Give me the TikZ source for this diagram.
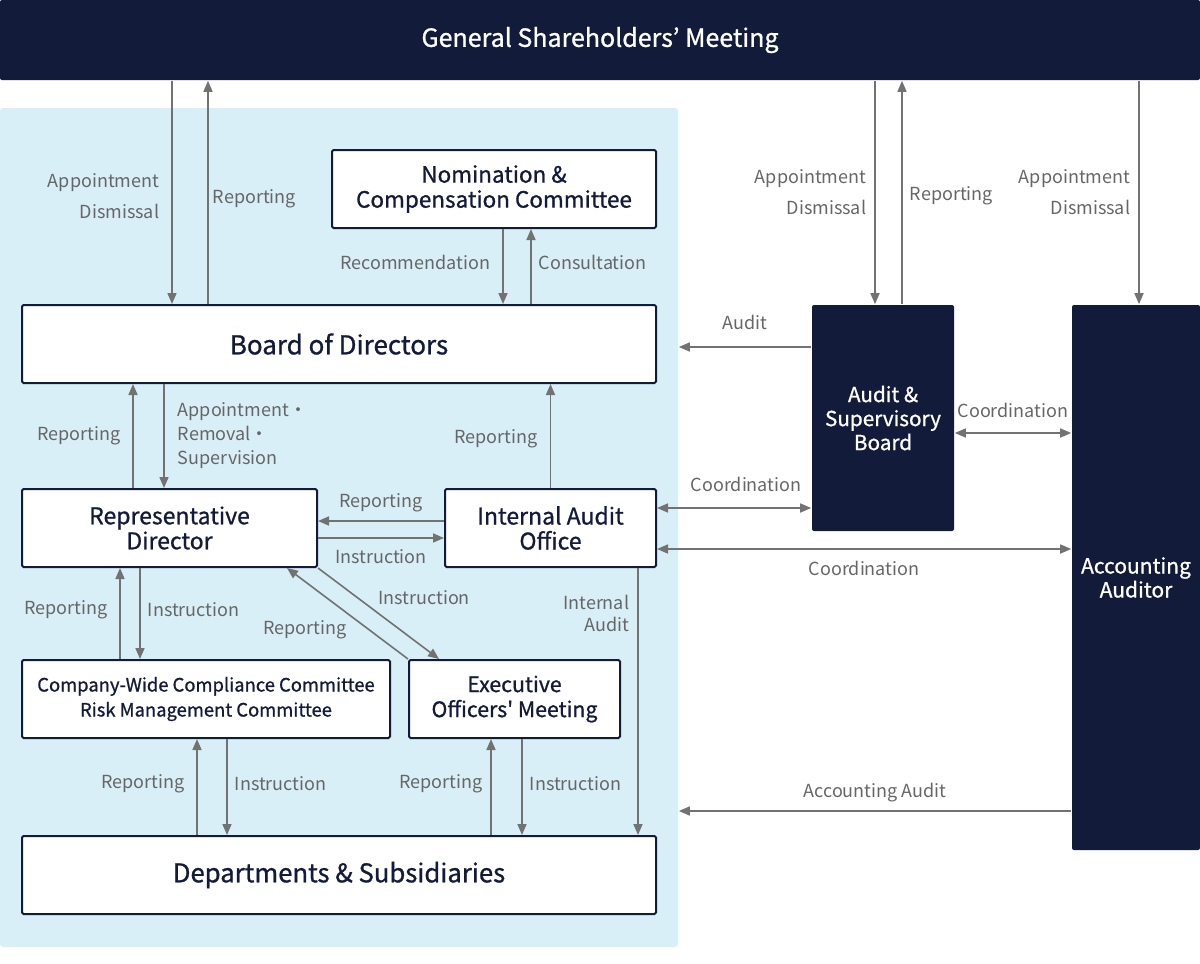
\documentclass[tikz,border=0pt]{standalone}
\usepackage{fontspec}
\setmainfont{Noto Sans CJK JP}
\newfontfamily\medfont{Noto Sans CJK JP}[FakeBold=0.9]
\usetikzlibrary{arrows.meta}
\usetikzlibrary{positioning}

\definecolor{navy}{HTML}{131B3A}
\definecolor{panelblue}{HTML}{D8EFF7}
\definecolor{arrowgray}{HTML}{727272}
\definecolor{labelgray}{HTML}{666666}

\begin{document}
\begin{tikzpicture}[x=1pt, y=-1pt, ->, >={Triangle[length=11pt,width=9pt]}, line width=1.6pt, color=arrowgray]
    \tikzstyle{box}=[draw=navy, line width=2pt, fill=white, text=navy, rounded corners=1.5pt, minimum height=78pt, align=center, inner sep=0pt]
    \tikzstyle{darkbox}=[fill=navy, text=white, rounded corners=2pt, align=center, inner sep=0pt]
    \tikzstyle{lbl}=[text=labelgray, font=\fontsize{18}{22}\selectfont, inner sep=4pt]
    \useasboundingbox (0,0) rectangle (1200,964);

    % company-side panel
    \node[fill=panelblue, rounded corners=3pt, minimum width=678pt, minimum height=839pt, inner sep=0pt] (panel) at (339,527.5) {};

    \node[darkbox, minimum width=1200pt, minimum height=80pt, font=\medfont\fontsize{25}{25}\selectfont] (gsm) at (600,40) {General Shareholders’ Meeting};
    \node[box, minimum width=324pt, font=\medfont\fontsize{22.5}{25}\selectfont] (nom) at (494,189) {Nomination \&\\Compensation Committee};
    \node[box, minimum width=634pt, font=\medfont\fontsize{26}{26}\selectfont] (board) at (339,344) {Board of Directors};
    \node[box, minimum width=295pt, font=\medfont\fontsize{23}{25}\selectfont] (rep) at (169.5,528) {Representative\\Director};
    \node[box, minimum width=211pt, font=\medfont\fontsize{23}{25}\selectfont] (iao) at (550.5,528) {Internal Audit\\Office};
    \node[box, minimum width=368pt, font=\medfont\fontsize{18.4}{25}\selectfont] (comp) at (206,699) {Company-Wide Compliance Committee\\Risk Management Committee};
    \node[box, minimum width=211pt, font=\medfont\fontsize{21.3}{25}\selectfont] (exec) at (514.5,699) {Executive\\Officers' Meeting};
    \node[box, minimum width=634pt, font=\medfont\fontsize{25.7}{26}\selectfont] (dept) at (339,875) {Departments \& Subsidiaries};
    \node[darkbox, minimum width=142pt, minimum height=226pt, font=\medfont\fontsize{20.7}{24}\selectfont] (asb) at (883,418) {Audit \&\\Supervisory\\Board};
    \node[darkbox, minimum width=128pt, minimum height=545pt, font=\medfont\fontsize{21}{24}\selectfont] (aa) at (1136,577.5) {Accounting\\Auditor};

    \path
    % shareholders and board
    ([xshift=151pt]board.north west |- gsm.south)
      edge node[lbl, left, align=right, xshift=-8pt, yshift=-4pt]{Appointment\\[9pt]Dismissal} ([xshift=151pt]board.north west)
    ([xshift=187pt]board.north west)
      edge node[lbl, right, yshift=-6pt]{Reporting} ([xshift=187pt]board.north west |- gsm.south)
    ([xshift=9pt]nom.south)
      edge node[lbl, left, xshift=-8pt, yshift=4pt]{Recommendation} ([xshift=9pt]nom.south |- board.north)
    ([xshift=37pt]nom.south |- board.north)
      edge node[lbl, right, xshift=3pt, yshift=4pt]{Consultation} ([xshift=37pt]nom.south)
    % board and representative director
    ([xshift=112pt]rep.north west)
      edge node[lbl, left, xshift=-8pt]{Reporting} ([xshift=112pt]rep.north west |- board.south)
    ([xshift=143pt]rep.north west |- board.south)
      edge node[lbl, right, align=left, xshift=9pt]{Appointment・\\[2pt]Removal・\\[2pt]Supervision} ([xshift=143pt]rep.north west)
    (iao.north)
      edge node[lbl, left, xshift=-8pt, yshift=-3pt]{Reporting} (iao.north |- board.south)
    ([yshift=7pt]iao.west)
      edge node[lbl, above, yshift=4pt]{Reporting} ([yshift=7pt]iao.west -| rep.east)
    ([yshift=-10pt]rep.east)
      edge node[lbl, below, yshift=-7pt]{Instruction} ([yshift=-10pt]rep.east -| iao.west)
    % representative director and committees
    ([xshift=119pt]comp.north west |- rep.south)
      edge node[lbl, right, xshift=3pt, yshift=4pt]{Instruction} ([xshift=119pt]comp.north west)
    ([xshift=99pt]comp.north west)
      edge node[lbl, left, xshift=-8pt, yshift=4pt]{Reporting} ([xshift=99pt]comp.north west |- rep.south)
    (rep.south east)
      edge node[lbl, above right, xshift=-5pt, yshift=4pt]{Instruction} ([xshift=31pt]exec.north west)
    (exec.north west)
      edge node[lbl, below left, xshift=4pt, yshift=-2pt]{Reporting} ([xshift=-31pt]rep.south east)
    ([xshift=-19pt]iao.south east)
      edge node[lbl, left, align=right, pos=0.17, xshift=-4pt]{Internal\\Audit} ([xshift=-19pt]iao.south east |- dept.north)
    % committees and departments
    ([xshift=21pt]comp.south)
      edge node[lbl, right, xshift=3pt, yshift=3.5pt]{Instruction} ([xshift=21pt]comp.south |- dept.north)
    ([xshift=-9pt]comp.south |- dept.north)
      edge node[lbl, left, xshift=-8pt, yshift=3.5pt]{Reporting} ([xshift=-9pt]comp.south)
    ([xshift=-23.5pt]exec.south |- dept.north)
      edge node[lbl, left, xshift=-4pt, yshift=3.5pt]{Reporting} ([xshift=-23.5pt]exec.south)
    ([xshift=7.5pt]exec.south)
      edge node[lbl, right, xshift=3pt, yshift=3.5pt]{Instruction} ([xshift=7.5pt]exec.south |- dept.north)
    % audit side
    ([xshift=-8pt]asb.north |- gsm.south)
      edge node[lbl, left, align=right, xshift=-4pt]{Appointment\\[9pt]Dismissal} ([xshift=-8pt]asb.north)
    ([xshift=19pt]asb.north)
      edge node[lbl, right, xshift=3pt, yshift=-3pt]{Reporting} ([xshift=19pt]asb.north |- gsm.south)
    ([xshift=3pt]aa.north |- gsm.south)
      edge node[lbl, left, align=right, xshift=-4pt]{Appointment\\[9pt]Dismissal} ([xshift=3pt]aa.north)
    ([yshift=71pt]asb.west)
      edge node[lbl, above, yshift=12pt]{Audit} ([yshift=71pt]asb.west -| panel.east)
    ([yshift=-15pt]asb.east)
      edge[<->] node[lbl, above, yshift=10pt]{Coordination} ([yshift=-15pt]asb.east -| aa.west)
    ([yshift=20pt]iao.east)
      edge[<->] node[lbl, above, xshift=12pt, yshift=11pt]{Coordination} ([yshift=20pt]iao.east -| asb.west)
    ([yshift=-21pt]iao.east)
      edge[<->] node[lbl, below, yshift=-7pt]{Coordination} ([yshift=-21pt]iao.east -| aa.west)
    ([yshift=-233.5pt]aa.west)
      edge node[lbl, above, yshift=4pt]{Accounting Audit} ([yshift=-233.5pt]aa.west -| panel.east);
\end{tikzpicture}
\end{document}
